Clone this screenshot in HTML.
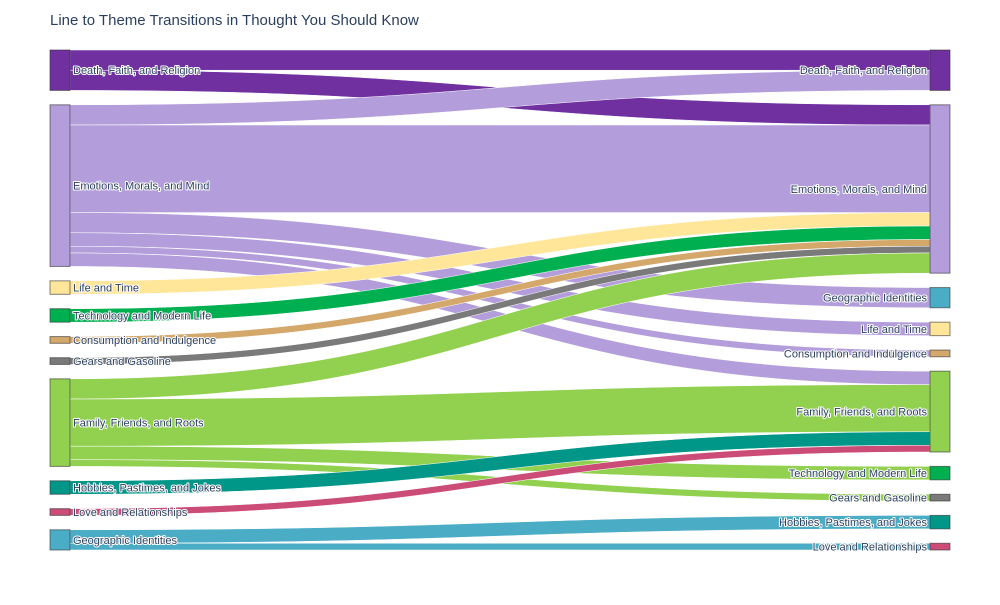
<!DOCTYPE html>
<html><head><meta charset="utf-8"><style>
body{margin:0;background:#fff;}
svg text{font-family:"Liberation Sans",sans-serif;}
.lbl{font-size:11px;fill:#2a3f5f;paint-order:stroke;stroke:#fff;stroke-width:2px;stroke-linejoin:round;}
</style></head><body>
<svg id="chart" width="1000" height="600">
<rect width="1000" height="600" fill="#fff"/>
<text x="50" y="25" font-size="15" fill="#2a3f5f">Line to Theme Transitions in Thought You Should Know</text>
<g id="links"></g><g id="nodes"></g>
</svg>
<script>
const themes = ["Death, Faith, and Religion","Emotions, Morals, and Mind","Life and Time","Technology and Modern Life","Consumption and Indulgence","Gears and Gasoline","Family, Friends, and Roots","Hobbies, Pastimes, and Jokes","Love and Relationships","Geographic Identities"];
const colors = ["#7030a0","#b39ddb","#ffe699","#00b050","#d4a76a","#7a7a7a","#92d050","#009688","#cc4c78","#4bacc6"];
const leftOrder = [0,1,2,3,4,5,6,7,8,9];
const rightOrder = [0,1,9,2,4,6,3,5,7,8];
const linkSource = [0,0,1,1,1,1,1,1,2,3,4,5,6,6,6,6,7,8,9,9];
const linkTarget = [0,1,0,1,9,2,4,6,1,1,1,1,1,6,3,5,6,6,7,8];
const linkValue  = [3,3,3,13,3,2,1,2,2,2,1,1,3,7,2,1,2,1,2,1];

const ns="http://www.w3.org/2000/svg";
const top0=50, totalH=500, pad=14.4, xL=50, xR=930, nw=20;
function totals(side){const t=new Array(themes.length).fill(0);
  linkValue.forEach((v,i)=>{t[side==='L'?linkSource[i]:linkTarget[i]]+=v;});return t;}
const tL=totals('L'), tR=totals('R');
const sumV=tL.reduce((a,b)=>a+b,0);
const k=(totalH-pad*(themes.length-1))/sumV;
function layout(order,tot){const y={};let c=top0;order.forEach(n=>{if(tot[n]>0){y[n]=c;c+=tot[n]*k+pad;}});return y;}
const yL=layout(leftOrder,tL), yR=layout(rightOrder,tR);
const rankR={},rankL={};rightOrder.forEach((n,i)=>rankR[n]=i);leftOrder.forEach((n,i)=>rankL[n]=i);
const idx=linkValue.map((v,i)=>i);
const offS={},offT={};
const sy=[],ty=[];
idx.slice().sort((a,b)=>rankR[linkTarget[a]]-rankR[linkTarget[b]]).forEach(i=>{const s=linkSource[i];offS[s]=offS[s]||0;sy[i]=yL[s]+offS[s];offS[s]+=linkValue[i]*k;});
idx.slice().sort((a,b)=>rankL[linkSource[a]]-rankL[linkSource[b]]).forEach(i=>{const t=linkTarget[i];offT[t]=offT[t]||0;ty[i]=yR[t]+offT[t];offT[t]+=linkValue[i]*k;});
const gl=document.getElementById('links');
const x0=xL+nw,x1=xR,xm=(x0+x1)/2;
idx.forEach(i=>{const h=linkValue[i]*k,a=sy[i],b=ty[i];
  const p=document.createElementNS(ns,'path');
  p.setAttribute('d',`M${x0},${a}C${xm},${a} ${xm},${b} ${x1},${b}L${x1},${b+h}C${xm},${b+h} ${xm},${a+h} ${x0},${a+h}Z`);
  p.setAttribute('fill',colors[linkSource[i]]);p.setAttribute('stroke','#fff');p.setAttribute('stroke-width','0.5');
  
  
  gl.appendChild(p);});
const gn=document.getElementById('nodes');
function node(n,y,tot,side){const h=tot*k;
  const r=document.createElementNS(ns,'rect');
  r.setAttribute('x',side==='L'?xL:xR);r.setAttribute('y',y);r.setAttribute('width',nw);r.setAttribute('height',h);
  r.setAttribute('fill',colors[n]);r.setAttribute('stroke','rgba(50,50,50,0.6)');r.setAttribute('stroke-width','1');
  
  
  gn.appendChild(r);
  const t=document.createElementNS(ns,'text');
  t.setAttribute('class','lbl');t.setAttribute('y',y+h/2+4);
  if(side==='L'){t.setAttribute('x',xL+nw+3);}else{t.setAttribute('x',xR-3);t.setAttribute('text-anchor','end');}
  t.textContent=themes[n];
  
  
  gn.appendChild(t);}
leftOrder.forEach(n=>{if(tL[n]>0)node(n,yL[n],tL[n],'L');});
rightOrder.forEach(n=>{if(tR[n]>0)node(n,yR[n],tR[n],'R');});
</script>
</body></html>
